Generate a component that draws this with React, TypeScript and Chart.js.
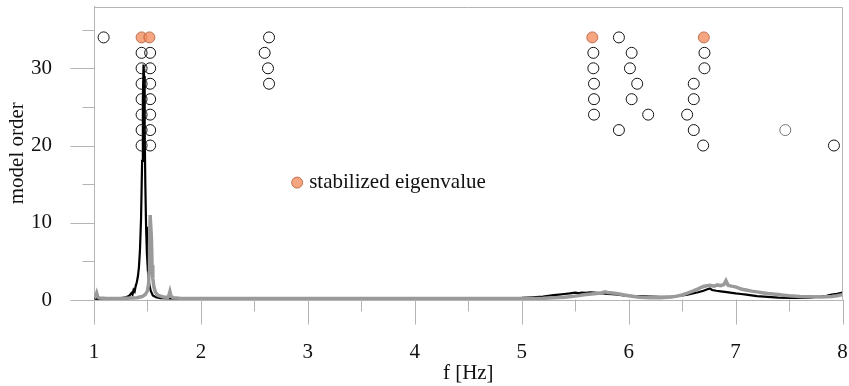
import React, { useEffect, useRef } from "react";
import { Chart, registerables } from "chart.js";

Chart.register(...registerables);

// Spectrum of the first channel (black trace)
const FREQ_BLACK = [
  1.0, 1.05, 1.1, 1.15, 1.2, 1.25, 1.3, 1.33, 1.35, 1.36, 1.37, 1.38, 1.39, 1.4, 1.41, 1.42,
  1.43, 1.44, 1.45, 1.457, 1.463, 1.468, 1.474, 1.48, 1.487, 1.495, 1.505, 1.515, 1.53, 1.55,
  1.58, 1.62, 1.7, 1.8, 2.0, 2.3, 2.6, 3.0, 3.4, 3.8, 4.2, 4.5, 4.8, 5.0, 5.1, 5.2, 5.25, 5.3,
  5.35, 5.4, 5.45, 5.5, 5.53, 5.56, 5.6, 5.64, 5.68, 5.72, 5.76, 5.8, 5.85, 5.9, 5.95, 6.0,
  6.05, 6.1, 6.15, 6.2, 6.3, 6.4, 6.45, 6.5, 6.55, 6.6, 6.65, 6.7, 6.73, 6.76, 6.78, 6.82,
  6.86, 6.9, 6.95, 7.0, 7.05, 7.1, 7.15, 7.2, 7.3, 7.4, 7.5, 7.6, 7.7, 7.75, 7.8, 7.85, 7.9,
  7.95, 8.0,
];
const AMP_BLACK = [
  0.18, 0.15, 0.17, 0.16, 0.2, 0.24, 0.35, 0.55, 0.9, 0.7, 1.3, 1.1, 1.8, 2.3, 3.0, 4.2,
  6.5, 10.5, 18, 26, 30.5, 29, 22, 15, 9.5, 6, 3.6, 2.2, 1.2, 0.6,
  0.35, 0.25, 0.2, 0.18, 0.15, 0.14, 0.15, 0.14, 0.15, 0.16, 0.17, 0.2, 0.22, 0.28, 0.35, 0.45, 0.55, 0.62,
  0.7, 0.78, 0.85, 0.95, 0.88, 0.97, 0.92, 1.0, 0.96, 0.9, 0.84, 0.8, 0.75, 0.7, 0.6, 0.55,
  0.5, 0.48, 0.46, 0.45, 0.42, 0.45, 0.5, 0.6, 0.7, 0.85, 1.0, 1.2, 1.35, 1.5, 1.3, 1.2,
  1.12, 1.05, 0.95, 0.85, 0.78, 0.7, 0.6, 0.5, 0.4, 0.32, 0.28, 0.28, 0.32, 0.4, 0.45, 0.55, 0.7,
  0.8, 0.95,
];

// Spectrum of the second channel (grey trace)
const FREQ_GRAY = [
  1.0, 1.015, 1.025, 1.035, 1.05, 1.1, 1.2, 1.3, 1.4, 1.45, 1.48, 1.5, 1.51, 1.515, 1.52, 1.525,
  1.532, 1.537, 1.543, 1.55, 1.56, 1.575, 1.6, 1.65, 1.69, 1.7, 1.71, 1.72, 1.74, 1.8, 2.0, 2.3,
  2.7, 3.0, 3.5, 4.0, 4.5, 5.0, 5.2, 5.3, 5.4, 5.5, 5.55, 5.6, 5.65, 5.7, 5.75, 5.78, 5.8, 5.85,
  5.9, 5.95, 6.0, 6.05, 6.1, 6.2, 6.3, 6.4, 6.45, 6.5, 6.55, 6.6, 6.65, 6.68, 6.7, 6.73, 6.76,
  6.8, 6.83, 6.86, 6.89, 6.91, 6.93, 6.96, 7.0, 7.03, 7.06, 7.1, 7.15, 7.2, 7.25, 7.3, 7.35, 7.4,
  7.45, 7.5, 7.6, 7.7, 7.8, 7.85, 7.9, 7.95, 8.0,
];
const AMP_GRAY = [
  0.25, 0.5, 0.9, 0.4, 0.25, 0.22, 0.2, 0.22, 0.3, 0.45, 0.7, 1.2, 2.0, 3.5, 7, 11,
  11, 8, 4.5, 2.8, 1.7, 1.0, 0.6, 0.4, 0.35, 0.6, 1.1, 0.5, 0.3, 0.22, 0.2, 0.18,
  0.2, 0.18, 0.2, 0.18, 0.2, 0.2, 0.22, 0.28, 0.35, 0.5, 0.6, 0.7, 0.78, 0.85, 0.95, 1.05, 0.98, 0.92,
  0.8, 0.68, 0.55, 0.45, 0.35, 0.3, 0.3, 0.4, 0.5, 0.65, 0.9, 1.15, 1.45, 1.65, 1.75, 1.85, 1.9,
  1.8, 1.95, 1.85, 2.0, 2.5, 1.9, 1.8, 1.7, 1.55, 1.4, 1.3, 1.15, 1.05, 0.95, 0.85, 0.78, 0.7,
  0.62, 0.55, 0.45, 0.42, 0.4, 0.42, 0.45, 0.55, 0.7,
];

// Identified poles (frequency, model order)
const POLE_FREQ = [
  1.09,
  1.445, 1.445, 1.445, 1.445, 1.445, 1.445, 1.445,
  1.525, 1.525, 1.525, 1.525, 1.525, 1.525, 1.525,
  2.637, 2.596, 2.627, 2.637,
  5.67, 5.67, 5.676, 5.676, 5.676,
  5.909, 5.909,
  6.028, 6.012, 6.08, 6.028, 6.183,
  6.709, 6.709, 6.609, 6.609, 6.547, 6.609, 6.697,
  7.92,
];
const POLE_ORDER = [
  34,
  32, 30, 28, 26, 24, 22, 20,
  32, 30, 28, 26, 24, 22, 20,
  34, 32, 30, 28,
  32, 30, 28, 26, 24,
  34, 22,
  32, 30, 28, 26, 24,
  32, 30, 28, 26, 24, 22, 20,
  20,
];
const FAINT_FREQ = [7.465];
const FAINT_ORDER = [22];
const STABLE_FREQ = [1.445, 1.518, 5.66, 6.703];
const STABLE_ORDER = [34, 34, 34, 34];

// Axis ticks
const X_MAJOR = [1, 2, 3, 4, 5, 6, 7, 8];
const X_MINOR = [1.5, 2.5, 3.5, 4.5, 5.5, 6.5, 7.5];
const Y_MAJOR = [0, 10, 20, 30];
const Y_MINOR = [5, 15, 25, 35];

const LEGEND_LABEL = "stabilized eigenvalue";
const LEGEND_AT = { x: 2.9, y: 15.2 };

const FONT = "'Liberation Serif', 'Times New Roman', serif";
const FONT_SIZE = 21;
const AXIS_COLOR = "#b4b4b4";
const STABLE_FILL = "rgba(242, 140, 92, 0.78)";
const STABLE_EDGE = "rgba(180, 96, 62, 0.85)";

const pairs = (xs: number[], ys: number[]) => xs.map((x, i) => ({ x, y: ys[i] }));

const decorations = {
  id: "decorations",
  afterDraw(chart: any) {
    const { ctx, chartArea: a, scales } = chart;
    const x = scales.x;
    const y = scales.y;
    ctx.save();
    ctx.strokeStyle = AXIS_COLOR;
    ctx.lineWidth = 1;
    ctx.beginPath();
    const top = Math.round(a.top) + 0.5;
    const right = Math.round(a.right) - 0.5;
    const bottom = Math.round(a.bottom) - 0.5;
    const left = Math.round(a.left) + 0.5;
    ctx.moveTo(left, top);
    ctx.lineTo(right, top);
    ctx.lineTo(right, bottom);
    X_MAJOR.forEach((v) => {
      const px = Math.round(x.getPixelForValue(v)) + 0.5;
      ctx.moveTo(px, bottom);
      ctx.lineTo(px, bottom + 25);
    });
    X_MINOR.forEach((v) => {
      const px = Math.round(x.getPixelForValue(v)) + 0.5;
      ctx.moveTo(px, bottom);
      ctx.lineTo(px, bottom + 12);
    });
    Y_MAJOR.forEach((v) => {
      const py = Math.round(y.getPixelForValue(v)) + 0.5;
      ctx.moveTo(left, py);
      ctx.lineTo(left - 24, py);
    });
    Y_MINOR.forEach((v) => {
      const py = Math.round(y.getPixelForValue(v)) + 0.5;
      ctx.moveTo(left, py);
      ctx.lineTo(left - 12, py);
    });
    ctx.stroke();

    // legend entry placed inside the plot
    const lx = x.getPixelForValue(LEGEND_AT.x);
    const ly = y.getPixelForValue(LEGEND_AT.y);
    ctx.beginPath();
    ctx.arc(lx, ly, 5.5, 0, Math.PI * 2);
    ctx.fillStyle = STABLE_FILL;
    ctx.fill();
    ctx.strokeStyle = STABLE_EDGE;
    ctx.stroke();
    ctx.fillStyle = "#111";
    ctx.font = `${FONT_SIZE}px ${FONT}`;
    ctx.textAlign = "left";
    ctx.textBaseline = "middle";
    ctx.fillText(LEGEND_LABEL, lx + 12, ly);
    ctx.restore();
  },
};

export default function App() {
  const canvasRef = useRef<HTMLCanvasElement | null>(null);

  useEffect(() => {
    const canvas = canvasRef.current;
    if (!canvas) return;
    const chart = new Chart(canvas, {
      type: "scatter",
      data: {
        datasets: [
          {
            data: pairs(STABLE_FREQ, STABLE_ORDER),
            pointRadius: 5.5,
            pointBackgroundColor: STABLE_FILL,
            pointBorderColor: STABLE_EDGE,
            pointBorderWidth: 1,
            order: 0,
          },
          {
            data: pairs(POLE_FREQ, POLE_ORDER),
            pointRadius: 5.5,
            pointBackgroundColor: "rgba(0,0,0,0)",
            pointBorderColor: "#111",
            pointBorderWidth: 1,
            order: 1,
          },
          {
            data: pairs(FAINT_FREQ, FAINT_ORDER),
            pointRadius: 5.5,
            pointBackgroundColor: "rgba(0,0,0,0)",
            pointBorderColor: "#777",
            pointBorderWidth: 1,
            order: 2,
          },
          {
            data: pairs(FREQ_GRAY, AMP_GRAY),
            showLine: true,
            pointRadius: 0,
            borderColor: "#9a9a9a",
            borderWidth: 3.5,
            tension: 0,
            order: 3,
          },
          {
            data: pairs(FREQ_BLACK, AMP_BLACK),
            showLine: true,
            pointRadius: 0,
            borderColor: "#000",
            borderWidth: 2.2,
            tension: 0,
            order: 4,
          },
        ],
      } as any,
      options: {
        animation: false,
        responsive: false,
        maintainAspectRatio: false,
        layout: { padding: { top: 5, right: 5, left: 0, bottom: 0 } },
        plugins: { legend: { display: false }, tooltip: { enabled: false } },
        scales: {
          x: {
            type: "linear",
            min: 1,
            max: 8,
            grid: { display: false },
            border: { display: true, color: AXIS_COLOR, width: 1 },
            ticks: {
              stepSize: 1,
              color: "#111",
              font: { family: FONT, size: FONT_SIZE },
              padding: 32,
              maxRotation: 0,
            },
            title: {
              display: true,
              text: "f [Hz]",
              color: "#111",
              font: { family: FONT, size: FONT_SIZE },
              padding: { top: 0, bottom: 0 },
            },
            afterFit: (s: any) => {
              s.height = 86;
              s.paddingLeft = 0;
              s.paddingRight = 0;
            },
          },
          y: {
            type: "linear",
            min: 0,
            max: 38,
            grid: { display: false },
            border: { display: true, color: AXIS_COLOR, width: 1 },
            ticks: {
              stepSize: 5,
              color: "#111",
              font: { family: FONT, size: FONT_SIZE },
              padding: 34,
              callback: (v: any) => (Number(v) % 10 === 0 ? String(v) : ""),
            },
            title: {
              display: true,
              text: "model order",
              color: "#111",
              font: { family: FONT, size: FONT_SIZE },
              padding: { top: 5, bottom: 0 },
            },
            afterFit: (s: any) => {
              s.width = 94;
              s.paddingTop = 0;
              s.paddingBottom = 0;
            },
          },
        },
      } as any,
      plugins: [decorations],
    });
    return () => chart.destroy();
  }, []);

  return (
    <div style={{ position: "absolute", left: 0, top: 0, width: 849, height: 386, background: "#fff" }}>
      <canvas ref={canvasRef} width={849} height={386} style={{ display: "block" }} />
    </div>
  );
}
